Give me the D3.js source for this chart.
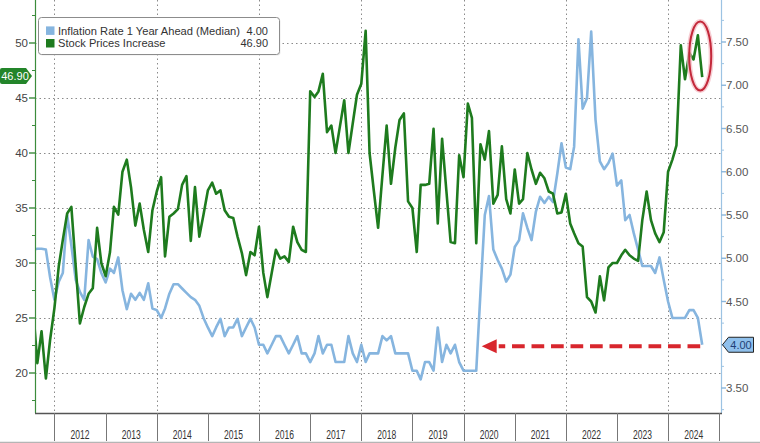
<!DOCTYPE html>
<html>
<head>
<meta charset="utf-8">
<script src="https://cdn.jsdelivr.net/npm/d3@7"></script>
<style>
html,body{margin:0;padding:0;background:#fff;}
svg{display:block;font-family:"Liberation Sans",Arial,sans-serif;}
</style>
</head>
<body>
<svg id="chart" width="760" height="443"></svg>
<script>
// ---------- DATA (monthly, Aug 2011 – Sep 2024) ----------
const firstYear = 2011, firstMonthIndex = 7; // August 2011
const stockPricesIncrease = [
  26.0,20.9,23.8,19.5,23.0,
  25.9,29.7,32.1,34.5,35.1,29.7,24.5,26.0,27.2,27.7,33.2,30.0,
  28.8,31.0,35.1,34.4,38.3,39.4,36.9,33.4,35.4,33.0,31.0,34.8,
  36.5,37.8,30.6,34.2,34.5,34.9,37.1,37.9,32.0,36.9,32.4,34.4,
  36.6,37.3,36.3,36.6,34.8,34.2,34.1,32.4,30.9,28.9,31.0,30.7,
  33.3,29.1,26.9,29.1,31.2,30.4,30.6,30.1,33.3,31.9,31.2,31.0,
  45.6,45.1,45.6,47.2,41.9,42.5,40.0,42.4,44.8,40.0,42.7,45.3,
  46.3,51.1,40.0,36.5,33.2,38.0,42.5,37.2,40.5,43.0,43.6,35.6,
  35.0,31.0,37.1,37.1,37.2,42.2,33.6,41.3,36.5,31.9,31.8,39.8,
  37.8,44.5,43.2,31.8,40.8,39.4,42.0,35.4,36.2,40.6,35.8,34.5,
  38.5,35.4,35.8,40.0,38.5,37.2,38.2,37.7,36.5,36.3,34.5,34.6,
  36.3,33.6,32.7,31.8,31.5,26.9,26.5,25.5,28.8,26.6,29.6,30.0,
  30.0,30.7,31.2,30.7,30.4,30.2,33.9,36.5,33.9,32.7,31.9,32.8,
  38.3,39.4,40.7,49.8,46.7,49.1,48.5,50.7,46.9
];
const inflation1YAhead = [
  5.10,5.11,5.11,5.10,4.78,
  4.52,4.73,4.83,5.50,5.15,4.75,4.61,4.52,5.21,5.02,4.99,4.83,
  4.72,4.88,4.83,5.01,4.63,4.41,4.59,4.52,4.60,4.52,4.71,4.42,
  4.40,4.31,4.42,4.59,4.70,4.70,4.65,4.60,4.55,4.52,4.45,4.31,
  4.20,4.10,4.20,4.30,4.10,4.20,4.20,4.30,4.10,4.20,4.30,4.20,
  4.00,4.00,3.90,4.00,4.10,4.10,4.00,3.90,4.00,4.10,3.90,3.90,
  3.80,3.90,4.10,3.90,4.00,4.00,3.80,3.80,3.80,4.10,3.90,3.80,
  4.00,3.80,3.90,3.90,3.90,4.10,4.05,4.10,3.90,3.90,3.90,3.90,
  3.70,3.70,3.60,3.80,3.80,3.70,4.20,3.80,4.00,3.90,4.00,3.80,
  3.70,3.70,3.70,3.70,4.60,5.50,5.72,5.10,4.98,4.88,4.73,4.81,
  5.13,5.21,5.52,5.35,5.21,5.54,5.71,5.64,5.71,5.65,5.98,6.33,
  6.05,6.03,6.29,7.53,6.73,6.85,7.62,6.60,6.12,6.03,6.10,6.21,
  5.84,5.90,5.44,5.50,5.29,5.10,4.91,4.91,4.91,4.83,5.01,4.75,
  4.50,4.31,4.31,4.31,4.31,4.40,4.40,4.31,4.00
];
const leftTicks = [20, 25, 30, 35, 40, 45, 50];
const rightTicks = [3.5, 4.0, 4.5, 5.0, 5.5, 6.0, 6.5, 7.0, 7.5];
const yearLabels = ["2012","2013","2014","2015","2016","2017","2018","2019","2020","2021","2022","2023","2024"];
const seriesNames = ["Inflation Rate 1 Year Ahead (Median)", "Stock Prices Increase"];
const seriesColors = ["#86b5df", "#1e7b1e"];

// ---------- LAYOUT ----------
const svg = d3.select("#chart");
const W = 760, H = 443;
const plotL = 35, plotR = 721, plotT = 0, plotB = 413;

const dates = stockPricesIncrease.map((_, i) => new Date(firstYear, firstMonthIndex + i, 1));

const x = d3.scaleTime()
  .domain([new Date(2011, 7, 1), new Date(2025, 0, 1)])
  .range([33, 719.3]);
const yL = d3.scaleLinear().domain([20, 50]).range([373, 43]);
const yR = d3.scaleLinear().domain([3.5, 7.5]).range([388, 42]);

svg.append("rect").attr("width", W).attr("height", H).attr("fill", "#fff");

svg.append("defs").append("clipPath").attr("id", "clip")
  .append("rect").attr("x", plotL).attr("y", plotT)
  .attr("width", plotR - plotL).attr("height", plotB - plotT);

// ---------- GRID ----------
const grid = svg.append("g");
grid.selectAll("line.h").data(leftTicks).join("line")
  .attr("x1", plotL).attr("x2", plotR)
  .attr("y1", d => Math.round(yL(d)) + 0.5).attr("y2", d => Math.round(yL(d)) + 0.5)
  .attr("stroke", "#8a8a8a").attr("stroke-width", 1).attr("stroke-dasharray", "1.5,3");
const gridYears = [2012, 2014, 2016, 2018, 2020, 2022, 2024];
grid.selectAll("line.v").data(gridYears).join("line")
  .attr("x1", d => Math.round(x(new Date(d, 0, 1))) + 0.5)
  .attr("x2", d => Math.round(x(new Date(d, 0, 1))) + 0.5)
  .attr("y1", plotT).attr("y2", plotB)
  .attr("stroke", "#8a8a8a").attr("stroke-width", 1).attr("stroke-dasharray", "1.5,3");

// ---------- LINES ----------
const lines = svg.append("g").attr("clip-path", "url(#clip)");
const lineR = d3.line().x((d, i) => x(dates[i])).y(d => yR(d));
const lineL = d3.line().x((d, i) => x(dates[i])).y(d => yL(d));
lines.append("path").datum(inflation1YAhead).attr("d", lineR)
  .attr("fill", "none").attr("stroke", seriesColors[0]).attr("stroke-width", 2.6)
  .attr("stroke-linejoin", "round");
lines.append("path").datum(stockPricesIncrease).attr("d", lineL)
  .attr("fill", "none").attr("stroke", seriesColors[1]).attr("stroke-width", 2.6)
  .attr("stroke-linejoin", "round");

// ---------- LEFT AXIS ----------
const la = svg.append("g");
la.append("line").attr("x1", plotL + 0.5).attr("x2", plotL + 0.5).attr("y1", 0).attr("y2", plotB)
  .attr("stroke", "#3c8c3c").attr("stroke-width", 1.2);
const leftMinor = d3.range(17.5, 54, 5);
la.selectAll("line.mn").data(leftMinor).join("line")
  .attr("x1", plotL - 3).attr("x2", plotL)
  .attr("y1", d => yL(d)).attr("y2", d => yL(d))
  .attr("stroke", "#3c8c3c").attr("stroke-width", 1);
la.selectAll("line.mj").data(leftTicks).join("line")
  .attr("x1", plotL - 6).attr("x2", plotL)
  .attr("y1", d => yL(d)).attr("y2", d => yL(d))
  .attr("stroke", "#3c8c3c").attr("stroke-width", 1.4);
la.selectAll("text").data(leftTicks).join("text")
  .attr("x", 28).attr("y", d => yL(d) + 4)
  .attr("text-anchor", "end").attr("font-size", 11.5).attr("fill", "#444")
  .text(d => d);

// ---------- RIGHT AXIS ----------
const ra = svg.append("g");
ra.append("line").attr("x1", plotR + 0.5).attr("x2", plotR + 0.5).attr("y1", 0).attr("y2", plotB)
  .attr("stroke", "#9cc3e3").attr("stroke-width", 1.2);
const rightMinor = d3.range(3.25, 7.9, 0.5);
ra.selectAll("line.mn").data(rightMinor).join("line")
  .attr("x1", plotR).attr("x2", plotR + 3)
  .attr("y1", d => yR(d)).attr("y2", d => yR(d))
  .attr("stroke", "#9cc3e3").attr("stroke-width", 1);
ra.selectAll("line.mj").data(rightTicks).join("line")
  .attr("x1", plotR).attr("x2", plotR + 5)
  .attr("y1", d => yR(d)).attr("y2", d => yR(d))
  .attr("stroke", "#8ab6dc").attr("stroke-width", 1.4);
ra.selectAll("text").data(rightTicks.filter(d => d !== 4.0)).join("text")
  .attr("x", 726).attr("y", d => yR(d) + 4)
  .attr("font-size", 11.5).attr("fill", "#555")
  .text(d => d.toFixed(2));

// ---------- X AXIS BAND ----------
const xa = svg.append("g");
xa.append("line").attr("x1", plotL).attr("x2", plotR + 1).attr("y1", plotB + 0.5).attr("y2", plotB + 0.5)
  .attr("stroke", "#555").attr("stroke-width", 1.3);
const sepYears = d3.range(2012, 2026);
xa.selectAll("line.sep").data(sepYears).join("line")
  .attr("x1", d => Math.round(x(new Date(d, 0, 1))) + 0.5)
  .attr("x2", d => Math.round(x(new Date(d, 0, 1))) + 0.5)
  .attr("y1", plotB).attr("y2", 441)
  .attr("stroke", "#777").attr("stroke-width", 1);
xa.selectAll("text").data(yearLabels).join("text")
  .attr("x", d => (x(new Date(+d, 0, 1)) + x(new Date(+d + 1, 0, 1))) / 2)
  .attr("y", 438.5).attr("text-anchor", "middle")
  .attr("font-size", 12).attr("fill", "#333")
  .attr("textLength", 19).attr("lengthAdjust", "spacingAndGlyphs")
  .text(d => d);
xa.append("line").attr("x1", 0).attr("x2", W).attr("y1", 442.5).attr("y2", 442.5)
  .attr("stroke", "#b5b5b5").attr("stroke-width", 1.5);

// ---------- LEGEND ----------
const lg = svg.append("g");
lg.append("rect").attr("x", 39.5).attr("y", 18.5).attr("width", 241).attr("height", 37).attr("rx", 3)
  .attr("fill", "#d8d8d8").attr("opacity", 0.5);
lg.append("rect").attr("x", 38.5).attr("y", 17.5).attr("width", 241).attr("height", 37).attr("rx", 3)
  .attr("fill", "#fff").attr("stroke", "#8c8c8c").attr("stroke-width", 1);
const lastVals = [inflation1YAhead[inflation1YAhead.length - 1], stockPricesIncrease[stockPricesIncrease.length - 1]];
const textLens = [182, 107.5];
seriesNames.forEach((name, i) => {
  const cy = 30.7 + i * 12.6;
  lg.append("rect").attr("x", 46).attr("y", cy - 4.3).attr("width", 8.5).attr("height", 8.5)
    .attr("fill", seriesColors[i]);
  lg.append("text").attr("x", 58).attr("y", cy + 4).attr("font-size", 11).attr("fill", "#333")
    .attr("textLength", textLens[i]).attr("lengthAdjust", "spacingAndGlyphs").text(name);
  lg.append("text").attr("x", 268).attr("y", cy + 4).attr("text-anchor", "end")
    .attr("font-size", 11).attr("fill", "#333").text(lastVals[i].toFixed(2));
});

// ---------- BADGES ----------
const gy = yL(lastVals[1]) - 1;
svg.append("path")
  .attr("d", `M2,${gy - 8} H26 L32,${gy} L26,${gy + 8} H2 Q0,${gy + 8} 0,${gy + 6} V${gy - 6} Q0,${gy - 8} 2,${gy - 8} Z`)
  .attr("fill", "#23852a");
svg.append("text").attr("x", 15).attr("y", gy + 4).attr("text-anchor", "middle")
  .attr("font-size", 11).attr("fill", "#fff").text(lastVals[1].toFixed(2));

const by = yR(lastVals[0]);
svg.append("path")
  .attr("d", `M722.5,${by} L728.5,${by - 7.5} H753.5 V${by + 7.5} H728.5 Z`)
  .attr("fill", "#8fc0ec").attr("stroke", "#222").attr("stroke-width", 1);
svg.append("text").attr("x", 741).attr("y", by + 4).attr("text-anchor", "middle")
  .attr("font-size", 11).attr("fill", "#1f3f77").text(lastVals[0].toFixed(2));

// ---------- ANNOTATIONS ----------
const lastDate = dates[dates.length - 1];
const ay = yR(lastVals[0]) + 1.5;
const tipX = x(new Date(2020, 4, 10));
svg.append("line").attr("x1", x(lastDate) - 2).attr("x2", tipX + 17)
  .attr("y1", ay).attr("y2", ay)
  .attr("stroke", "#d8262d").attr("stroke-width", 4).attr("stroke-dasharray", "12.7,6.8");
svg.append("path")
  .attr("d", `M${tipX},${ay} L${tipX + 15},${ay - 7} L${tipX + 15},${ay + 7} Z`)
  .attr("fill", "#d8262d");

const ex = x(lastDate) - 2, eyC = 56;
svg.append("ellipse").attr("cx", ex).attr("cy", eyC).attr("rx", 11).attr("ry", 34.5)
  .attr("fill", "none").attr("stroke", "#f3b8c0").attr("stroke-width", 5).attr("opacity", 0.7);
svg.append("ellipse").attr("cx", ex).attr("cy", eyC).attr("rx", 11).attr("ry", 34.5)
  .attr("fill", "none").attr("stroke", "#c3283a").attr("stroke-width", 2);
</script>
</body>
</html>
